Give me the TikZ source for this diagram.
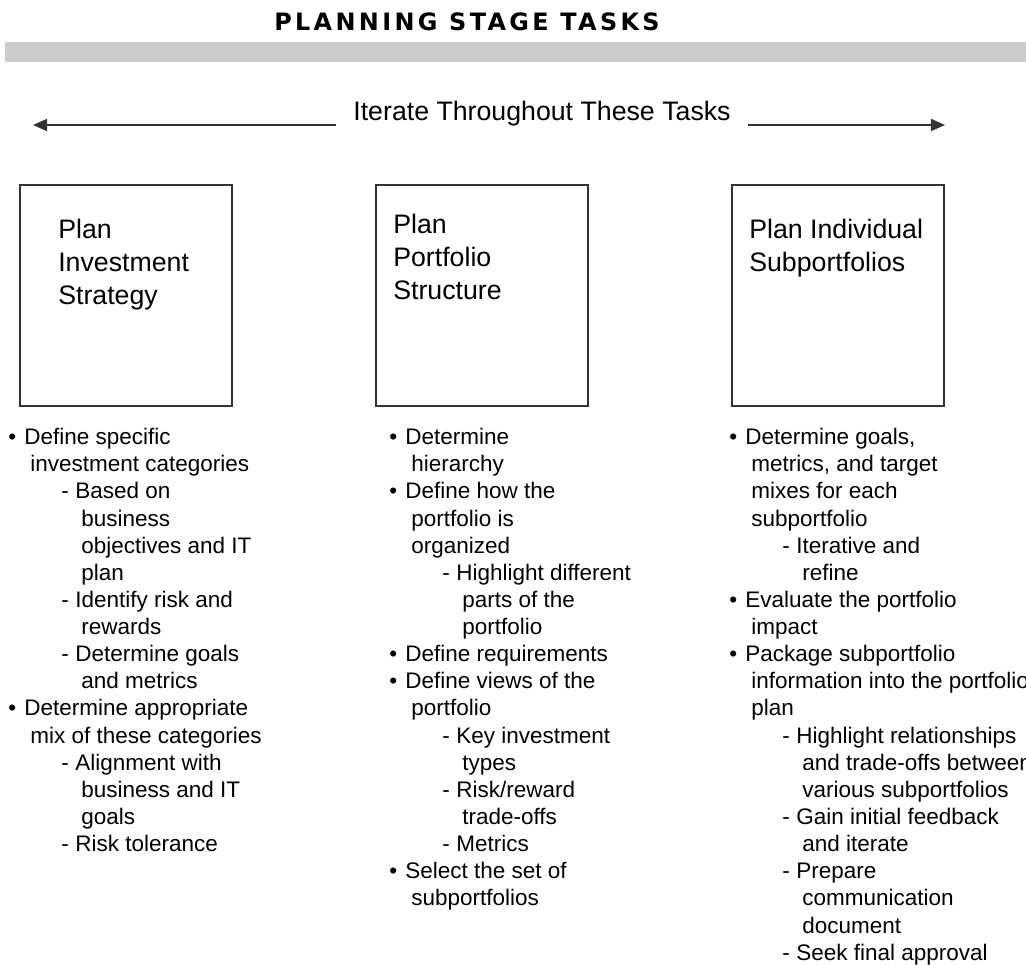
\documentclass[tikz,border=0pt]{standalone}
\usepackage{fontspec}
\setmainfont{Liberation Sans}
\newfontfamily\titlefont[LetterSpace=14]{DejaVu Sans}
\usetikzlibrary{arrows.meta}
\definecolor{mybarcolor}{HTML}{CCCCCC}
\definecolor{mylinecolor}{HTML}{333333}
\newcommand{\itembul}{\makebox[0.4cm][l]{\textbullet}}
\newcommand{\itemcont}{\hspace*{0.55cm}}
\newcommand{\subdash}{\hspace*{1.325cm}\makebox[0.35cm][l]{-}}
\newcommand{\subcont}{\hspace*{1.825cm}}
\tikzset{
  taskbox/.style={draw=mylinecolor, line width=1pt, rectangle, minimum width=5.3cm, minimum height=5.525cm},
  tasklabel/.style={anchor=north west, inner sep=0pt, align=left, font={\fontsize{19pt}{23.5pt}\selectfont}},
  tasklist/.style={anchor=north west, inner sep=0pt, align=left, font={\fontsize{16pt}{19.3pt}\selectfont}},
  iterarrow/.style={draw=mylinecolor, line width=1.4pt, -{Triangle[length=10pt, width=8.5pt]}},
}

\begin{document}
\begin{tikzpicture}[x=0.025cm, y=-0.025cm]%
\useasboundingbox (0,0) rectangle (1026,965);%
\node[font={\titlefont\bfseries\fontsize{17pt}{17pt}\selectfont}] (title) at (467,22) {PLANNING STAGE TASKS};%
\fill[mybarcolor] (5,42) rectangle (1026,62);%
\node[anchor=base, inner xsep=12pt, font={\fontsize{19pt}{19pt}\selectfont}] (iterlbl) at (542,121) {Iterate Throughout These Tasks};%
\coordinate (leftend) at (33,125);%
\coordinate (rightend) at (945,125);%
\draw[iterarrow] (iterlbl.west |- leftend) -- (leftend);%
\draw[iterarrow] (iterlbl.east |- rightend) -- (rightend);%
\node[taskbox] (invbox) at (126,295.5) {};%
\node[tasklabel] (invlbl) at (58,219) {Plan\\Investment\\Strategy};%
\node[taskbox] (pfbox) at (482,295.5) {};%
\node[tasklabel] (pflbl) at (393,214) {Plan\\Portfolio\\Structure};%
\node[taskbox] (subbox) at (838,295.5) {};%
\node[tasklabel] (sublbl) at (749,219) {Plan Individual\\Subportfolios};%
\node[tasklist] (invlist) at (8,428) {\itembul Define specific\\
  \itemcont investment categories\\
  \subdash Based on\\
  \subcont business\\
  \subcont objectives and IT\\
  \subcont plan\\
  \subdash Identify risk and\\
  \subcont rewards\\
  \subdash Determine goals\\
  \subcont and metrics\\
  \itembul Determine appropriate\\
  \itemcont mix of these categories\\
  \subdash Alignment with\\
  \subcont business and IT\\
  \subcont goals\\
  \subdash Risk tolerance};%
\node[tasklist] (pflist) at (389,428) {\itembul Determine\\
  \itemcont hierarchy\\
  \itembul Define how the\\
  \itemcont portfolio is\\
  \itemcont organized\\
  \subdash Highlight different\\
  \subcont parts of the\\
  \subcont portfolio\\
  \itembul Define requirements\\
  \itembul Define views of the\\
  \itemcont portfolio\\
  \subdash Key investment\\
  \subcont types\\
  \subdash Risk/reward\\
  \subcont trade-offs\\
  \subdash Metrics\\
  \itembul Select the set of\\
  \itemcont subportfolios};%
\node[tasklist] (sublist) at (729,428) {\itembul Determine goals,\\
  \itemcont metrics, and target\\
  \itemcont mixes for each\\
  \itemcont subportfolio\\
  \subdash Iterative and\\
  \subcont refine\\
  \itembul Evaluate the portfolio\\
  \itemcont impact\\
  \itembul Package subportfolio\\
  \itemcont information into the portfolio\\
  \itemcont plan\\
  \subdash Highlight relationships\\
  \subcont and trade-offs between\\
  \subcont various subportfolios\\
  \subdash Gain initial feedback\\
  \subcont and iterate\\
  \subdash Prepare\\
  \subcont communication\\
  \subcont document\\
  \subdash Seek final approval};%
\end{tikzpicture}
\end{document}
